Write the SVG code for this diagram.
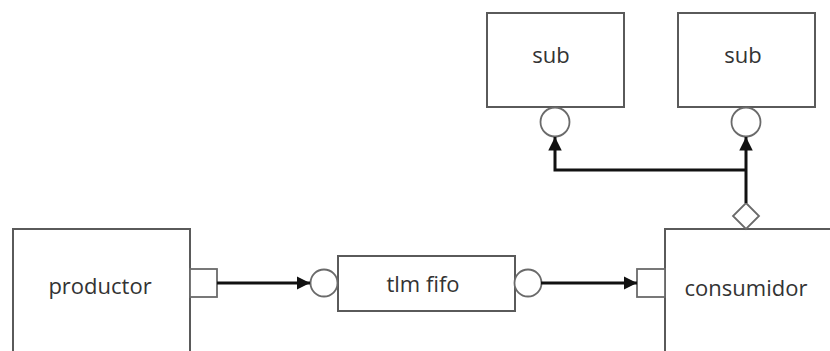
<svg xmlns="http://www.w3.org/2000/svg" width="830" height="351" viewBox="0 0 830 351">
  <style>
    .box { fill: #fff; stroke: #5a5a5a; stroke-width: 2; }
    .port { fill: #fff; stroke: #6a6a6a; stroke-width: 1.8; }
    .label { font-family: "Open Sans", "Liberation Sans", sans-serif; font-size: 22px; fill: #333; text-anchor: middle; dominant-baseline: central; }
    .wire { fill: none; stroke: #111; stroke-width: 3; }
  </style>
  <defs>
    <marker id="arrow" viewBox="0 0 10 10" refX="10" refY="5" markerWidth="4.5" markerHeight="4.5" orient="auto" markerUnits="strokeWidth">
      <path d="M0,0 L10,5 L0,10 z" fill="#111"/>
    </marker>
  </defs>
  <rect width="830" height="351" fill="#fff"/>

  <g id="productor">
    <rect class="box" x="13" y="229" width="177" height="130"/>
    <rect class="port" x="190" y="269" width="27" height="28"/>
    <text class="label" x="100" y="285">productor</text>
  </g>

  <g id="tlm-fifo">
    <rect class="box" x="338" y="256" width="177" height="55"/>
    <circle class="port" cx="324" cy="283" r="13.5"/>
    <circle class="port" cx="528" cy="283" r="13.5"/>
    <text class="label" x="423" y="283">tlm fifo</text>
  </g>

  <g id="consumidor">
    <rect class="box" x="665" y="229" width="180" height="130"/>
    <rect class="port" x="637" y="269" width="28" height="28"/>
    <polygon class="port" points="746,203 759,216 746,229 733,216"/>
    <text class="label" x="746" y="287">consumidor</text>
  </g>

  <g id="sub-1">
    <rect class="box" x="487" y="13" width="137" height="94"/>
    <circle class="port" cx="555" cy="122" r="14.5"/>
    <text class="label" x="551" y="54">sub</text>
  </g>

  <g id="sub-2">
    <rect class="box" x="678" y="13" width="137" height="94"/>
    <circle class="port" cx="746" cy="122" r="14.5"/>
    <text class="label" x="743" y="54">sub</text>
  </g>

  <g id="connectors">
    <line class="wire" x1="217" y1="283" x2="310" y2="283" marker-end="url(#arrow)"/>
    <line class="wire" x1="541" y1="283" x2="637" y2="283" marker-end="url(#arrow)"/>
    <line class="wire" x1="746" y1="203" x2="746" y2="137" marker-end="url(#arrow)"/>
    <polyline class="wire" points="746,170 555,170 555,137" marker-end="url(#arrow)"/>
  </g>
</svg>
